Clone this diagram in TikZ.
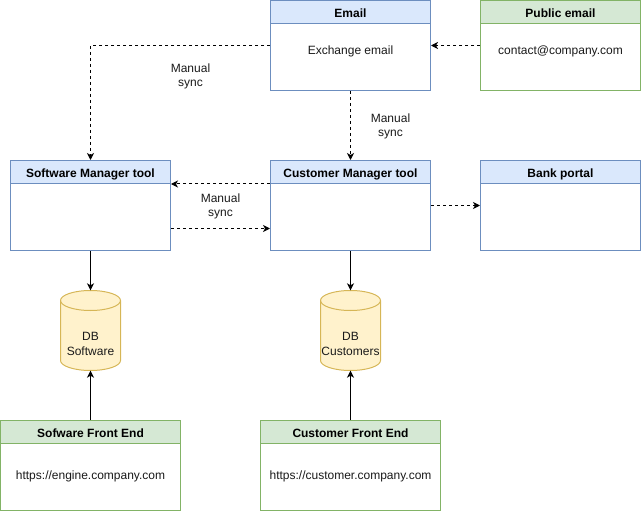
\documentclass[tikz,border=0pt]{standalone}
\usepackage{fontspec}
\setmainfont{Liberation Sans}
\usetikzlibrary{arrows.meta,calc}
\definecolor{bluefill}{HTML}{DAE8FC}
\definecolor{bluedraw}{HTML}{6C8EBF}
\definecolor{greenfill}{HTML}{D5E8D4}
\definecolor{greendraw}{HTML}{82B366}
\definecolor{yelfill}{HTML}{FFF2CC}
\definecolor{yeldraw}{HTML}{D6B656}
\definecolor{txt}{HTML}{1A1A1A}
\begin{document}
\begin{tikzpicture}[x=1pt,y=-1pt,
  font=\fontsize{12}{14.5}\selectfont,
  box/.style={draw, fill=white, line width=1pt, minimum width=160pt, minimum height=90pt, inner sep=0pt},
  widebox/.style={box, minimum width=180pt},
  hdr/.style={draw, line width=1pt, minimum width=160pt, minimum height=23pt, inner sep=0pt, text height=11pt, text depth=0pt, anchor=north, font=\fontsize{12}{14}\selectfont\bfseries},
  widehdr/.style={hdr, minimum width=180pt},
  bluebox/.style={draw=bluedraw},
  bluehdr/.style={draw=bluedraw, fill=bluefill},
  greenbox/.style={draw=greendraw},
  greenhdr/.style={draw=greendraw, fill=greenfill},
  bodytxt/.style={inner sep=0pt, text=txt},
  lbl/.style={align=center, inner sep=0pt, text=txt, font=\fontsize{12}{14}\selectfont},
  dbnode/.style={minimum width=60pt, minimum height=80pt, inner sep=0pt},
  dbtxt/.style={align=center, inner sep=0pt, text=txt, font=\fontsize{12}{15}\selectfont},
  cyl/.style={draw=yeldraw, fill=yelfill, line width=1pt},
  conn/.style={line width=1pt, -{Stealth[length=7pt,width=7pt,inset=2pt]}},
  dconn/.style={conn, dash pattern=on 3pt off 3pt}
]
\useasboundingbox (0,0) rectangle (641,511);
\begin{scope}[shift={(0.5,0.5)}]
% boxes
\node[box, bluebox] (email) at (350,45) {};
\node[hdr, bluehdr] (emailh) at (email.north) {Email};
\node[bodytxt] (emailt) at (350,50.5) {Exchange email};

\node[box, greenbox] (pub) at (560,45) {};
\node[hdr, greenhdr] (pubh) at (pub.north) {Public email};
\node[bodytxt] (pubt) at (560,50.5) {contact@company.com};

\node[box, bluebox] (smt) at (90,205) {};
\node[hdr, bluehdr] (smth) at (smt.north) {Software Manager tool};

\node[box, bluebox] (cmt) at (350,205) {};
\node[hdr, bluehdr] (cmth) at (cmt.north) {Customer Manager tool};

\node[box, bluebox] (bank) at (560,205) {};
\node[hdr, bluehdr] (bankh) at (bank.north) {Bank portal};

\node[widebox, greenbox] (sfe) at (90,465) {};
\node[widehdr, greenhdr] (sfeh) at (sfe.north) {Sofware Front End};
\node[bodytxt] (sfet) at (90,476) {https://engine.company.com};

\node[widebox, greenbox] (cfe) at (350,465) {};
\node[widehdr, greenhdr] (cfeh) at (cfe.north) {Customer Front End};
\node[bodytxt] (cfet) at (350,476) {https://customer.company.com};

% cylinders
\foreach \cx in {90,350}{
  \path[cyl] (\cx-30,300) -- (\cx-30,360)
    arc[start angle=180, end angle=0, x radius=30, y radius=10]
    -- (\cx+30,300)
    arc[start angle=0, end angle=-180, x radius=30, y radius=10] -- cycle;
  \draw[draw=yeldraw, line width=1pt] (\cx-30,300)
    arc[start angle=180, end angle=0, x radius=30, y radius=10];
}
\node[dbnode] (dbs) at (90,330) {};
\node[dbtxt] (dbst) at (90,343.5) {DB\\Software};
\node[dbnode] (dbc) at (350,330) {};
\node[dbtxt] (dbct) at (350,343.5) {DB\\Customers};

% connectors
\draw[dconn] (email.west) -| (smt.north);
\draw[dconn] (email.south) -- (cmt.north);
\draw[dconn] (pub.west) -- (email.east);
\draw[dconn] (cmt.west |- cmth.south) -- (smt.east |- cmth.south);
\draw[dconn] ([yshift=-23pt]smt.east) -- ([yshift=-23pt]cmt.west);
\draw[dconn] (cmt.east) -- (bank.west);
\draw[conn] (smt.south) -- (dbs.north);
\draw[conn] (cmt.south) -- (dbc.north);
\draw[conn] (sfe.north) -- (dbs.south);
\draw[conn] (cfe.north) -- (dbc.south);

% labels
\node[lbl] (l1) at (190,76) {Manual\\sync};
\node[lbl] (l2) at (390,126) {Manual\\sync};
\node[lbl] (l3) at (220,206) {Manual\\sync};
\end{scope}
\end{tikzpicture}
\end{document}
